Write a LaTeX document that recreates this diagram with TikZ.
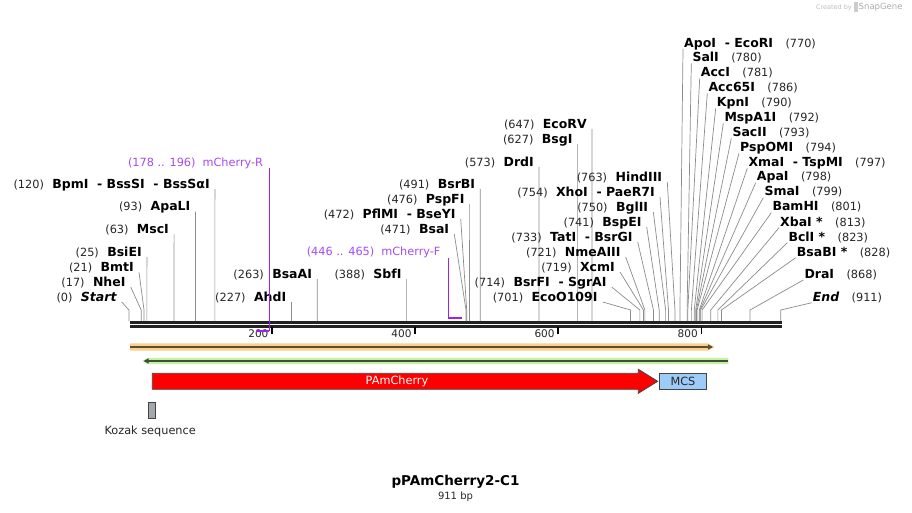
\documentclass[tikz,border=0pt]{standalone}
\usepackage{fontspec}
\setmainfont{DejaVu Sans}
\usetikzlibrary{positioning,calc,arrows.meta}
\definecolor{leadgray}{HTML}{8C8C8C}
\definecolor{rulerblk}{HTML}{222222}
\definecolor{primerline}{HTML}{A020F0}
\definecolor{primertext}{HTML}{A64BF4}
\definecolor{orangeband}{HTML}{FAD08A}
\definecolor{orangeline}{HTML}{5E4E38}
\definecolor{greenband}{HTML}{C4F2A0}
\definecolor{greenline}{HTML}{3E4E3A}
\definecolor{mcsblue}{HTML}{9DCCF8}
\definecolor{kozakgray}{HTML}{A3A7AC}
\definecolor{outline}{HTML}{444444}
\tikzset{enz/.style={font=\fontsize{12.5}{14}\selectfont\bfseries,inner sep=0pt},
  bpnum/.style={font=\fontsize{11.3}{13}\selectfont,inner sep=0pt,text=black!85},
  lead/.style={draw=leadgray,line width=.7pt},
  ruler/.style={draw=rulerblk,line width=2.8pt},
  tickmark/.style={draw=black,line width=1.8pt},
  ticklab/.style={font=\fontsize{10.5}{12}\selectfont,inner sep=0pt,text=black!85},
  ptext/.style={font=\fontsize{11.3}{13}\selectfont,inner sep=0pt,text=primertext},
  primer/.style={draw=primerline,line width=1pt},
  feat/.style={draw=outline,line width=.8pt},
  flabel/.style={font=\fontsize{11.3}{13}\selectfont,inner sep=0pt}}
\newcommand{\enzsep}{\ \ -\ }
% left-hand site: bp, label y, right edge of name, name
\newcommand{\lsite}[4]{%
  \coordinate (s#1) at ({129+0.7155*#1},321);
  \node[enz,anchor=base east] (e#1) at (#3,{#2+4.3}) {#4};
  \node[bpnum,anchor=base east] (p#1) at ([xshift=-8pt]e#1.base west) {(#1)};
  \draw[lead] ($(e#1.base east)+(5,0.7)$) -- ([yshift=11pt]s#1) -- (s#1);}
% right-hand site: bp, label y, left edge of name, name
\newcommand{\rsite}[4]{%
  \coordinate (s#1) at ({129+0.7155*#1},321);
  \node[enz,anchor=base west] (e#1) at (#3,{#2+4.3}) {#4};
  \node[bpnum,anchor=base west] (p#1) at ([xshift=12pt]e#1.base east) {(#1)};
  \draw[lead] ($(e#1.base west)+(-1,1.7)$) -- ([yshift=11pt]s#1) -- (s#1);}
\begin{document}
\begin{tikzpicture}[x=1pt,y=-1pt]
\useasboundingbox[fill=white] (0,0) rectangle (912,513);
\node[font=\fontsize{6.5}{7}\selectfont,text=black!25,anchor=east,inner sep=0pt] (made) at (852,7.5) {Created by};
\fill[black!20] (854,2.5) rectangle (857.5,12.5);
\node[font=\fontsize{8.5}{9}\selectfont,text=black!33,anchor=west,inner sep=0pt] (sg) at (858.5,7.5) {SnapGene};

\coordinate (rulerA) at (130,322.2);
\coordinate (rulerB) at (782,322.2);
\draw[ruler] (rulerA) -- (rulerB);
\draw[ruler] ([yshift=-4.5pt]rulerA) -- ([yshift=-4.5pt]rulerB);
\foreach \t in {200,400,600,800}{
  \coordinate (t\t) at ({129+0.7155*\t},327);
  \draw[tickmark] (t\t) -- ++(0,7);
  \node[ticklab,anchor=base east] (tl\t) at ($(t\t)+(-3.5,10.3)$) {\t};
}

\lsite{0}{297}{116.7}{\itshape Start}
\lsite{17}{282}{125.7}{NheI}
\lsite{21}{267.3}{134}{BmtI}
\lsite{25}{252}{141.9}{BsiEI}
\lsite{63}{229}{169.1}{MscI}
\lsite{93}{206.5}{190.5}{ApaLI}
\lsite{120}{184}{209.9}{BpmI\enzsep BssSI\enzsep BssSαI}
\lsite{227}{297}{286.4}{AhdI}
\lsite{263}{274}{312.2}{BsaAI}
\lsite{388}{274}{401.6}{SbfI}
\lsite{471}{229}{449.3}{BsaI}
\lsite{472}{214}{455.7}{PflMI\enzsep BseYI}
\lsite{476}{199}{464.6}{PspFI}
\lsite{491}{184}{475.3}{BsrBI}
\lsite{573}{162}{534}{DrdI}
\lsite{627}{139}{572.6}{BsgI}
\lsite{647}{124}{586.9}{EcoRV}
\lsite{701}{297}{597.7}{EcoO109I}
\lsite{714}{282}{606.7}{BsrFI\enzsep SgrAI}
\lsite{719}{267}{615}{XcmI}
\lsite{721}{252}{620.7}{NmeAIII}
\lsite{733}{237}{632.7}{TatI\enzsep BsrGI}
\lsite{741}{222}{641.7}{BspEI}
\lsite{750}{207}{648.3}{BglII}
\lsite{754}{192}{655}{XhoI\enzsep PaeR7I}
\lsite{763}{177}{662.3}{HindIII}

\rsite{770}{43}{684}{ApoI\enzsep EcoRI}
\rsite{780}{57.3}{692.3}{SalI}
\rsite{781}{72.3}{700.7}{AccI}
\rsite{786}{87.3}{708.3}{Acc65I}
\rsite{790}{102.3}{716.7}{KpnI}
\rsite{792}{117.3}{724.3}{MspA1I}
\rsite{793}{132.3}{732.3}{SacII}
\rsite{794}{147.3}{740}{PspOMI}
\rsite{797}{162.3}{748.3}{XmaI\enzsep TspMI}
\rsite{798}{176.7}{756.7}{ApaI}
\rsite{799}{191.7}{764.3}{SmaI}
\rsite{801}{206.7}{772.3}{BamHI}
\rsite{813}{221.7}{780}{XbaI *}
\rsite{823}{236.7}{788.3}{BclI *}
\rsite{828}{251.7}{796.7}{BsaBI *}
\rsite{868}{274}{804.3}{DraI}
\rsite{911}{296.7}{812.7}{\itshape End}

\node[ptext,anchor=base east] (mR) at (263.3,166.2) {(178 .. 196)\hspace{7pt}mCherry-R};
\coordinate (r196) at ({129+0.7155*196},330.5);
\coordinate (r178) at ({129+0.7155*178},330.5);
\draw[primer] ($(r196 |- mR.base east)+(0,2)$) -- (r196);
\draw[primer,line width=2pt] (r196) -- (r178);
\node[ptext,anchor=base east] (mF) at (440.7,255.9) {(446 .. 465)\hspace{7pt}mCherry-F};
\coordinate (f446) at ({129+0.7155*446},317.7);
\coordinate (f465) at ({129+0.7155*465},317.7);
\draw[primer] ($(f446 |- mF.base east)+(0,2)$) -- (f446);
\draw[primer,line width=2pt] (f446) -- (f465);

\fill[orangeband] (130,343.4) -- (708,343.4) -- (714.5,347) -- (708,350.6) -- (130,350.6) -- cycle;
\draw[orangeline,line width=1.6pt,-{Triangle[length=5pt,width=5pt]}] (130,347) -- (713,347);
\fill[greenband] (728.3,357.8) -- (148,357.8) -- (142.3,361) -- (148,364.2) -- (728.3,364.2) -- cycle;
\draw[greenline,line width=1.6pt,-{Triangle[length=5pt,width=5pt]}] (728.3,361) -- (143.5,361);

\draw[feat,fill=red] (152.3,373.3) -- (638.3,373.3) -- (638.3,369.3) -- (657.7,381.3)
  -- (638.3,393.3) -- (638.3,389.3) -- (152.3,389.3) -- cycle;
\node[flabel,text=white] (pam) at (397,381.3) {PAmCherry};
\node[feat,fill=mcsblue,flabel,minimum width=47.4pt,minimum height=16pt,text=black!85] (mcs) at (683,381.3) {MCS};
\node[feat,fill=kozakgray,minimum width=7pt,minimum height=16pt,inner sep=0pt] (koz) at (152.2,410.3) {};
\node[flabel,text=black!85] (kozl) at (150.2,431.7) {Kozak sequence};

\node[font=\fontsize{13.5}{15}\selectfont\bfseries,inner sep=0pt] (title) at (455.5,482) {pPAmCherry2-C1};
\node[font=\fontsize{10}{12}\selectfont,inner sep=0pt,text=black!85] (len) at (455.5,497) {911 bp};
\end{tikzpicture}
\end{document}
